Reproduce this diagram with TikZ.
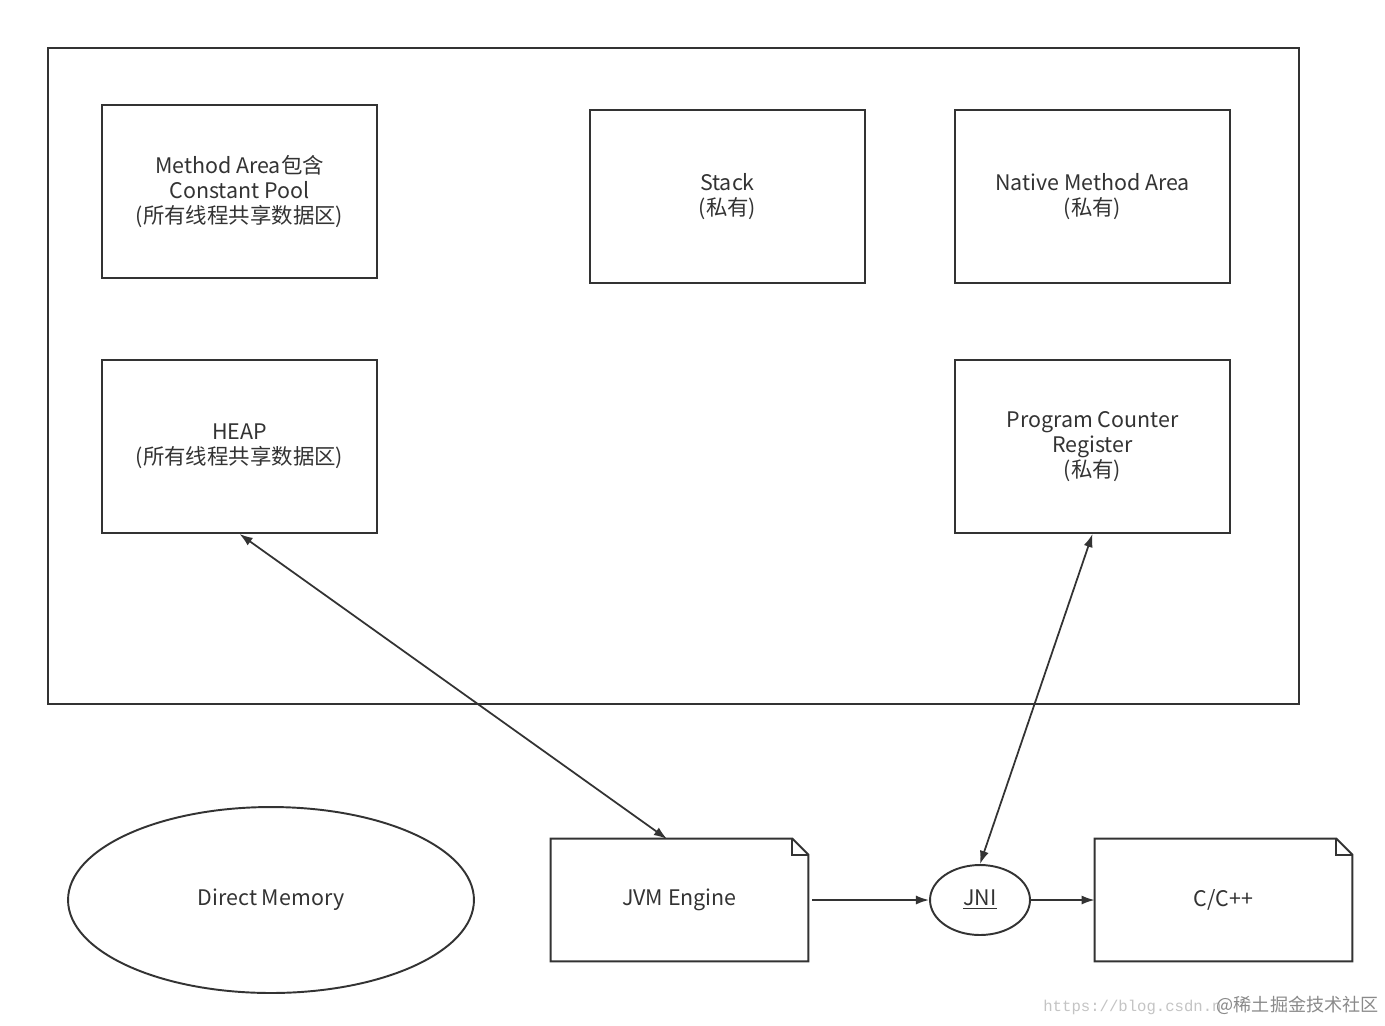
\documentclass[tikz,border=0pt]{standalone}
\usepackage{fontspec}
\setmainfont{Noto Sans CJK SC}
\newfontfamily\urlfont{Liberation Mono}
\usetikzlibrary{arrows.meta, shapes.geometric, calc}

\definecolor{edge}{HTML}{333333}
\definecolor{wmlight}{HTML}{C4C4C4}
\definecolor{wmdark}{HTML}{8A8A8A}

% folded-corner note drawn round a named node
\newcommand{\notefold}[1]{%
  \draw[line width=1.1pt, edge] (#1.north west) -- ($(#1.north east)+(-16,0)$)
    -- ($(#1.north east)+(0,16)$) -- (#1.south east) -- (#1.south west) -- cycle;
  \draw[line width=1.1pt, edge] ($(#1.north east)+(-16,0)$) -- ($(#1.north east)+(-16,16)$)
    -- ($(#1.north east)+(0,16)$);}

\begin{document}
\begin{tikzpicture}[x=0.02cm, y=-0.02cm,
      area/.style={draw=edge, line width=1.1pt, minimum width=5.5cm,
                   minimum height=3.46cm, align=center, inner sep=2pt,
                   font=\fontsize{12.2}{14.2}\selectfont, text=edge},
      note/.style={minimum width=5.14cm, minimum height=2.44cm, inner sep=0pt,
                   font=\fontsize{12.2}{14.2}\selectfont, text=edge},
      link/.style={edge, line width=1pt},
      tip/.style={-{Latex[length=7.5pt, width=5.2pt]}},
      both/.style={{Latex[length=7.5pt, width=5.2pt]}-{Latex[length=7.5pt, width=5.2pt]}}]
    \useasboundingbox (0,0) rectangle (1385,1025);
    \fill[white] (0,0) rectangle (1385,1025);

    % runtime data areas
    \node[draw=edge, line width=1.1pt, minimum width=25.02cm, minimum height=13.12cm,
          inner sep=0pt] (jvm) at (673.5,376) {};
    \node[area] (method) at (239.5,191.5) {Method Area包含\\Constant Pool\\(所有线程共享数据区)};
    \node[area] (stack) at (727.5,196.5) {Stack\\(私有)};
    \node[area] (native) at (1092.5,196.5) {Native Method Area\\(私有)};
    \node[area] (heap) at (239.5,446.5) {HEAP\\(所有线程共享数据区)};
    \node[area] (pcr) at (1092.5,446.5) {Program Counter\\Register\\(私有)};

    % outside the JVM
    \node[ellipse, draw=edge, line width=1.1pt, minimum width=8.12cm, minimum height=3.72cm,
          font=\fontsize{12.2}{14.2}\selectfont, text=edge] (direct) at (271,900) {Direct Memory};
    \node[note] (engine) at (679.5,900) {JVM Engine};
    \notefold{engine}
    \node[ellipse, draw=edge, line width=1.1pt, minimum width=2cm, minimum height=1.4cm,
          inner sep=0pt, font=\fontsize{12.2}{14.2}\selectfont, text=edge] (jni) at (980,900)
          {\underline{JNI}};
    \node[note] (native code) at (1223.5,900) {C/C++};
    \notefold{native code}

    \coordinate (engine top) at (667,839);
    \draw[link, both] (heap.south) -- (engine top);
    \draw[link, both] (pcr.south) -- (jni.north);
    \draw[link, tip] ($(engine.east)+(4,0)$) -- (jni.west);
    \draw[link, tip] (jni.east) -- (native code.west);

    % watermark
    \node[anchor=base west, inner sep=0pt, text=wmlight, font=\urlfont\fontsize{8.9}{10}\selectfont]
      (wmurl) at (1043,1011) {https://blog.csdn.n};
    \node[anchor=base east, inner sep=0pt, text=wmdark, font=\fontsize{10.3}{12}\selectfont]
      (wmsite) at (1379,1011) {@稀土掘金技术社区};
\end{tikzpicture}
\end{document}
